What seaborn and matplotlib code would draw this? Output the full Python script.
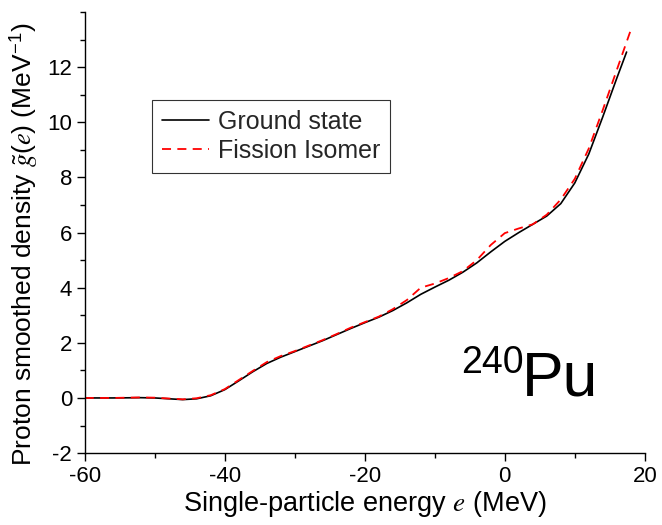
import matplotlib
matplotlib.use("Agg")
import matplotlib.pyplot as plt
import seaborn as sns
import pandas as pd
from matplotlib.ticker import MultipleLocator

ground_e = [-60, -56, -52, -50, -48, -46, -44, -42, -40, -38, -36, -34, -32, -30, -28, -26,
            -24, -22, -20, -18, -16, -14, -12, -10, -8, -6, -4, -2, 0, 2, 4, 6, 8, 10, 12, 14, 16, 17.4]
ground_g = [0.0, 0.0, 0.01, 0.0, -0.03, -0.06, -0.03, 0.08, 0.3, 0.62, 0.95, 1.25, 1.48, 1.68, 1.88, 2.08,
            2.3, 2.52, 2.73, 2.93, 3.17, 3.45, 3.76, 4.02, 4.27, 4.56, 4.9, 5.3, 5.68, 6.0, 6.3, 6.6, 7.05, 7.8, 8.85, 10.2, 11.6, 12.55]

isomer_e = [-60, -56, -52, -50, -48, -46, -44, -42, -40, -38, -36, -34, -32, -30, -28, -26,
            -24, -22, -20, -18, -16, -14, -12, -10, -8, -6, -4, -2, 0, 2, 4, 6, 8, 10, 12, 14, 16, 18]
isomer_g = [0.0, 0.0, 0.02, 0.01, -0.02, -0.05, -0.01, 0.1, 0.32, 0.65, 0.98, 1.3, 1.52, 1.7, 1.9, 2.1,
            2.32, 2.55, 2.75, 2.95, 3.22, 3.55, 4.0, 4.15, 4.35, 4.6, 5.0, 5.55, 5.98, 6.15, 6.3, 6.65, 7.2, 7.95, 9.05, 10.45, 11.9, 13.35]

labels = ["Ground state", "Fission Isomer"]

sns.set_theme(style="ticks")
plt.rcParams["font.family"] = ["Liberation Sans", "DejaVu Sans"]
plt.rcParams["mathtext.fontset"] = "custom"
plt.rcParams["mathtext.rm"] = "Liberation Sans"
plt.rcParams["mathtext.it"] = "STIXGeneral:italic"
plt.rcParams["mathtext.bf"] = "Liberation Sans:bold"
plt.rcParams["axes.unicode_minus"] = False

df_g = pd.DataFrame({"e": ground_e, "g": ground_g})
df_i = pd.DataFrame({"e": isomer_e, "g": isomer_g})

fig = plt.figure(figsize=(6.62, 5.25), dpi=100)
ax = fig.add_axes([0.128, 0.137, 0.846, 0.840])

sns.lineplot(data=df_g, x="e", y="g", ax=ax, color="black", lw=1.2, label=labels[0])
sns.lineplot(data=df_i, x="e", y="g", ax=ax, color="red", lw=1.3, label=labels[1])
ax.lines[1].set_dashes([5, 3.5])

ax.set_xlim(-60, 20)
ax.set_ylim(-2, 14)
ax.xaxis.set_major_locator(MultipleLocator(20))
ax.xaxis.set_minor_locator(MultipleLocator(10))
ax.yaxis.set_minor_locator(MultipleLocator(1))
ax.set_yticks([-2, 0, 2, 4, 6, 8, 10, 12])
ax.tick_params(which="major", direction="out", length=5.5, width=1, labelsize=16, color="black", labelcolor="black")
ax.tick_params(which="minor", direction="out", length=3.5, width=1, color="black")
for s in ["top", "right"]:
    ax.spines[s].set_visible(False)
for s in ["left", "bottom"]:
    ax.spines[s].set_color("black")
    ax.spines[s].set_linewidth(1.0)

ax.set_xlabel(r"Single-particle energy $e$ (MeV)", fontsize=19.5, color="black", labelpad=2)
ax.set_ylabel(r"Proton smoothed density $\tilde{g}(e)$ (MeV$^{-1}$)", fontsize=19, color="black")
ax.yaxis.set_label_coords(-0.08, 0.475)

leg = ax.legend(loc="upper left", bbox_to_anchor=(0.1196, 0.8005), fontsize=18, frameon=True,
                fancybox=False, edgecolor="black", handlelength=1.9, borderpad=0.4,
                labelspacing=0.2, handletextpad=0.35, borderaxespad=0)
leg.get_frame().set_linewidth(0.8)

ax.text(0.672, 0.181, "240", transform=ax.transAxes, fontsize=27, color="black", va="baseline", ha="left")
ax.text(0.781, 0.1315, "Pu", transform=ax.transAxes, fontsize=45, color="black", va="baseline", ha="left")

fig.savefig("out.png", dpi=100)
